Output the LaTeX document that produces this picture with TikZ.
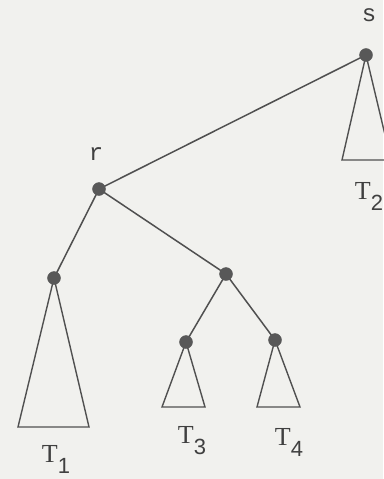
\documentclass[tikz,border=0pt]{standalone}
\usepackage{fontspec}
\setmainfont{Liberation Serif}
\newfontfamily\digitfont{Liberation Sans}
\newfontfamily\lblfont{Liberation Mono}
\pgfdeclarelayer{back}
\pgfdeclarelayer{edges}
\pgfsetlayers{back,edges,main}
\definecolor{paper}{RGB}{241,241,238}
\definecolor{ink}{RGB}{80,80,80}
\definecolor{dotc}{RGB}{88,88,88}
\tikzset{
  dot/.style={circle, fill=dotc, draw=dotc, inner sep=0pt, minimum size=13pt},
  edge/.style={draw=ink, line width=1.5pt},
  tri/.style={draw=ink, line width=1.4pt, line join=miter},
  tlabel/.style={font=\rmfamily\fontsize{26}{26}\selectfont, text=ink!80!black, inner sep=0pt},
  vlabel/.style={font=\lblfont\fontsize{24}{24}\selectfont, text=ink!80!black, inner sep=0pt}
}
\newcommand{\tsub}[1]{T\raisebox{-11pt}{\digitfont\fontsize{22}{22}\selectfont #1}}
\begin{document}
\begin{tikzpicture}[x=1pt,y=-1pt]
\useasboundingbox (0,0) rectangle (383,479);
\begin{pgfonlayer}{back}
  \fill[paper] (0,0) rectangle (383,479);
\end{pgfonlayer}
\clip (0,0) rectangle (383,479);
% vertices
\node[dot] (s) at (366,55) {};
\node[dot] (r) at (99,189) {};
\node[dot] (t1) at (54,278) {};
\node[dot] (m) at (226,274) {};
\node[dot] (t3) at (186,342) {};
\node[dot] (t4) at (275,340) {};
% triangle base corners
\coordinate (b2l) at (342,160);
\coordinate (b2r) at (391,160);
\coordinate (b1l) at (18,427);
\coordinate (b1r) at (89,427);
\coordinate (b3l) at (162,407);
\coordinate (b3r) at (205,407);
\coordinate (b4l) at (257,407);
\coordinate (b4r) at (300,407);
\begin{pgfonlayer}{edges}
  \draw[edge] (r.center) -- (s.center);
  \draw[edge] (r.center) -- (t1.center);
  \draw[edge] (r.center) -- (m.center);
  \draw[edge] (m.center) -- (t3.center);
  \draw[edge] (m.center) -- (t4.center);
  \draw[tri] (s.center) -- (b2l) -- (b2r) -- cycle;
  \draw[tri] (t1.center) -- (b1l) -- (b1r) -- cycle;
  \draw[tri] (t3.center) -- (b3l) -- (b3r) -- cycle;
  \draw[tri] (t4.center) -- (b4l) -- (b4r) -- cycle;
\end{pgfonlayer}
% labels
\node[vlabel] (ls) at (369,15) {s};
\node[vlabel] (lr) at (96,154) {r};
\node[tlabel] (l1) at (56,459) {\tsub{1}};
\node[tlabel] (l2) at (369,196) {\tsub{2}};
\node[tlabel] (l3) at (192,441) {\tsub{3}};
\node[tlabel] (l4) at (289,442) {\tsub{4}};
\end{tikzpicture}
\end{document}
